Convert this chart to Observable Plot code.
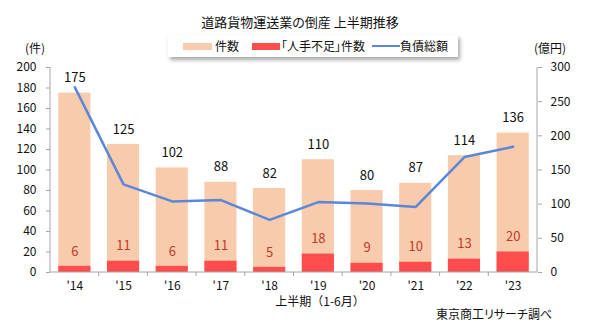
<!DOCTYPE html>
<html><head><meta charset="utf-8">
<script src="https://cdn.jsdelivr.net/npm/d3@7"></script>
<script src="https://cdn.jsdelivr.net/npm/@observablehq/plot@0.6"></script>
<style>
body{margin:0;background:#fff;font-family:"Noto Sans CJK JP",sans-serif;}
#wrap{position:relative;width:600px;height:329px;overflow:hidden;}
.t{position:absolute;white-space:nowrap;color:#111;line-height:1;font-feature-settings:"palt";}
#legend{position:absolute;left:168px;top:35px;width:290px;height:22px;background:#fff;box-shadow:2px 3px 4px rgba(0,0,0,0.35);font-size:12px;}
.sw{position:absolute;}
</style></head><body>
<div id="wrap"></div>
<script>
const years = ["14","15","16","17","18","19","20","21","22","23"];
const totals = [175,125,102,88,82,110,80,87,114,136];
const shortage = [6,11,6,11,5,18,9,10,13,20];
const debt = [271,129,104,106,77,103,101,96,169,184];
const leftTicks = [0,20,40,60,80,100,120,140,160,180,200];
const rightTicks = [0,50,100,150,200,250,300];

const data = years.map((y,i)=>({year:y,total:totals[i],red:shortage[i],debt:debt[i]}));
const toLeft = v => v*200/300;

const axisLines = (index, scales, values, dim) => {
  const g = d3.create("svg:g").attr("stroke","#a6a6a6").attr("fill","none");
  const x0 = dim.marginLeft, x1 = dim.width - dim.marginRight;
  const y0 = dim.marginTop, y1 = dim.height - dim.marginBottom;
  g.append("line").attr("x1",x0).attr("x2",x0).attr("y1",y0).attr("y2",y1);
  g.append("line").attr("x1",x1).attr("x2",x1).attr("y1",y0).attr("y2",y1);
  g.append("line").attr("x1",x0).attr("x2",x1).attr("y1",y1).attr("y2",y1);
  const step = (x1-x0)/years.length;
  for (let i=1;i<years.length;i++){
    const xx = x0 + i*step;
    g.append("line").attr("x1",xx).attr("x2",xx).attr("y1",y1).attr("y2",y1+4);
  }
  return g.node();
};

const chart = Plot.plot({
  width:600, height:329,
  marginTop:67, marginBottom:57, marginLeft:50, marginRight:63,
  style:{fontFamily:"'Noto Sans CJK JP',sans-serif",fontSize:"12px",color:"#111",background:"transparent"},
  x:{type:"band",domain:years,paddingInner:0.34,paddingOuter:0.17,round:false,axis:null},
  y:{domain:[0,200],axis:null},
  marks:[
    Plot.barY(data,{x:"year",y:"total",fill:"#F8CBAD"}),
    Plot.barY(data,{x:"year",y:"red",fill:"#FF4D4D"}),
    axisLines,
    Plot.axisY(leftTicks,{anchor:"left",tickSize:4,tickPadding:10,stroke:"#a6a6a6",fill:"#111",label:null,fontSize:12}),
    Plot.axisY(rightTicks.map(toLeft),{anchor:"right",tickSize:4,tickPadding:9,stroke:"#a6a6a6",fill:"#111",label:null,fontSize:12,tickFormat:d=>String(Math.round(d*1.5))}),
    Plot.axisX({anchor:"bottom",tickSize:0,tickPadding:9,label:null,fill:"#111",fontSize:12,tickFormat:d=>"'"+d}),
    Plot.line(data,{x:"year",y:d=>toLeft(d.debt),stroke:"#5B87D9",strokeWidth:2.5}),
    Plot.text(data,{x:"year",y:"total",text:d=>String(d.total),dy:-15,fontSize:13,fill:"#111"}),
    Plot.text(data,{x:"year",y:"red",text:d=>String(d.red),dy:-15,fontSize:13,fill:"#C0392B"})
  ]
});
const wrap = document.getElementById("wrap");
chart.style.position="absolute"; chart.style.left="0"; chart.style.top="0";
wrap.appendChild(chart);

function addText(txt, left, top, size, extra){
  const d = document.createElement("div");
  d.className="t"; d.textContent=txt;
  d.style.left=left+"px"; d.style.top=top+"px"; d.style.fontSize=size+"px";
  if (extra) Object.assign(d.style, extra);
  wrap.appendChild(d); return d;
}
addText("道路貨物運送業の倒産 上半期推移", 300, 15, 13, {transform:"translateX(-50%)"});
addText("(件)", 25, 42, 12);
addText("(億円)", 534, 42, 12);
addText("上半期（1-6月）", 320, 295, 12, {transform:"translateX(-50%)",fontFeatureSettings:"normal"});
addText("東京商工リサーチ調べ", 436, 308, 12);

const lg = document.createElement("div"); lg.id="legend"; wrap.appendChild(lg);
const items = [
  {label:"件数", color:"#F8CBAD", sx:15, sw:29, h:7, tx:47},
  {label:"「人手不足」件数", color:"#FF4D4D", sx:84, sw:28, h:7, tx:113},
  {label:"負債総額", color:"#5B87D9", sx:204, sw:28, h:2, tx:232}
];
items.forEach(it=>{
  const s=document.createElement("div"); s.className="sw";
  s.style.left=it.sx+"px"; s.style.width=it.sw+"px"; s.style.height=it.h+"px";
  s.style.top=(11-it.h/2)+"px"; s.style.background=it.color; lg.appendChild(s);
  const t=document.createElement("div"); t.className="t"; t.textContent=it.label;
  t.style.left=it.tx+"px"; t.style.top="5px"; t.style.fontSize="12px"; lg.appendChild(t);
});
</script></body></html>
